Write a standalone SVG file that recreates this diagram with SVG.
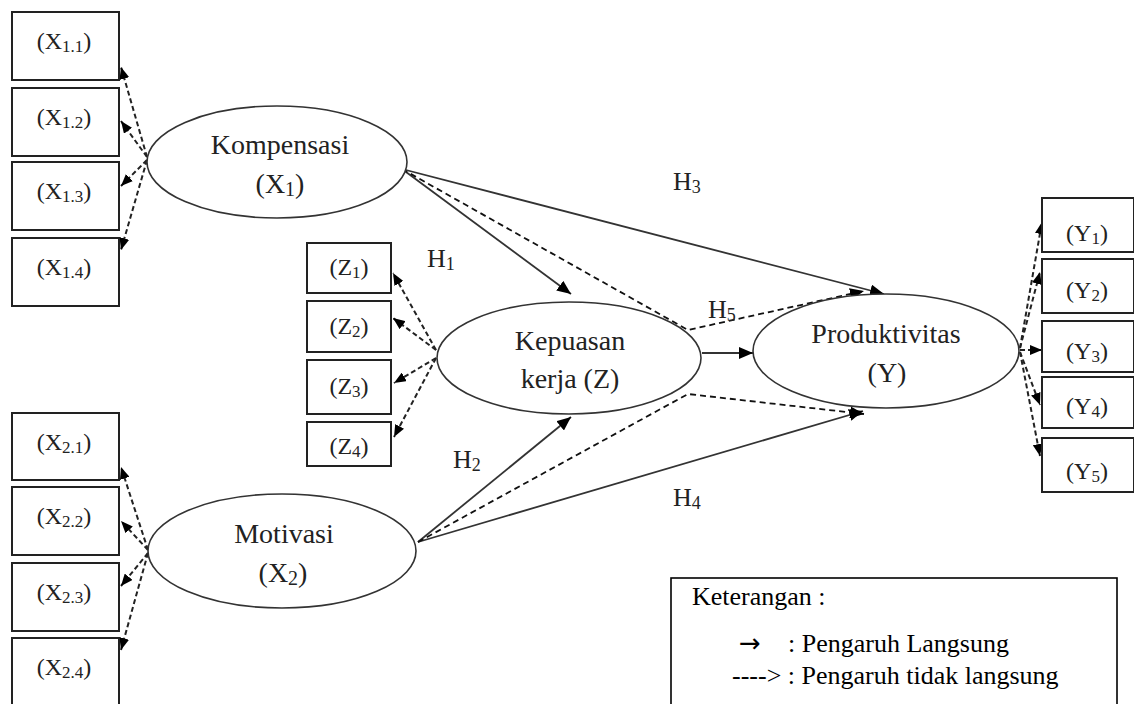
<svg xmlns="http://www.w3.org/2000/svg" width="1134" height="704" viewBox="0 0 1134 704" font-family="Liberation Serif, Times New Roman, serif">
<style>
.box{fill:#fff;stroke:#222;stroke-width:2}
.ell{fill:#fff;stroke:#333;stroke-width:1.6}
.t{font-family:"Liberation Serif","Times New Roman",serif;fill:#222}
.bl{font-size:24px;text-anchor:middle}
.el{font-size:28px;text-anchor:middle}
.h{font-size:26px}
.lg{font-size:26px;fill:#000}
.solid{fill:none;stroke:#333;stroke-width:1.8;marker-end:url(#ah)}
.dash{fill:none;stroke:#111;stroke-width:1.8;stroke-dasharray:6 4;marker-end:url(#ah)}
.ind{fill:none;stroke:#222;stroke-width:2;stroke-dasharray:5 3;marker-end:url(#as)}
</style>
<defs>
<marker id="ah" markerUnits="userSpaceOnUse" markerWidth="14" markerHeight="12" refX="14" refY="6" orient="auto"><path d="M0,0 L14,6 L0,12 z" fill="#000"/></marker>
<marker id="as" markerUnits="userSpaceOnUse" markerWidth="12" markerHeight="10" refX="12" refY="5" orient="auto"><path d="M0,0 L12,5 L0,10 z" fill="#000"/></marker>
</defs>
<rect width="1134" height="704" fill="#fff"/>

<g id="connectors">
<path class="ind" d="M147,157 L121,67"/>
<path class="ind" d="M147,157 L121,121"/>
<path class="ind" d="M147,160 L121,186"/>
<path class="ind" d="M147,160 L121,250"/>
<path class="ind" d="M148,550 L121,467"/>
<path class="ind" d="M148,550 L121,521"/>
<path class="ind" d="M148,553 L121,586"/>
<path class="ind" d="M148,553 L121,650"/>
<path class="ind" d="M436,350 L393,273"/>
<path class="ind" d="M436,350 L393,318"/>
<path class="ind" d="M436,358 L394,383"/>
<path class="ind" d="M436,358 L394,437"/>
<path class="ind" d="M1020,348 L1042,222"/>
<path class="ind" d="M1020,348 L1040,272"/>
<path class="ind" d="M1020,350 L1042,350"/>
<path class="ind" d="M1020,352 L1040,405"/>
<path class="ind" d="M1020,352 L1040,456"/>
<path class="solid" d="M402,169 L571,294"/>
<path class="solid" d="M402,169 L884,294"/>
<path class="dash" d="M402,169 L688,330 L864,291"/>
<path class="solid" d="M702,353 L753,353"/>
<path class="solid" d="M418,542 L571,417"/>
<path class="solid" d="M418,542 L863,411"/>
<path class="dash" d="M418,542 L688,394 L864,414"/>
</g>

<g id="node-x11"><rect class="box" x="12" y="12" width="107" height="68"/><text class="t bl" x="64" y="49">(X<tspan font-size="17" dy="3">1.1</tspan><tspan dy="-3">)</tspan></text></g>
<g id="node-x12"><rect class="box" x="12" y="88" width="107" height="68"/><text class="t bl" x="64" y="125">(X<tspan font-size="17" dy="3">1.2</tspan><tspan dy="-3">)</tspan></text></g>
<g id="node-x13"><rect class="box" x="12" y="162" width="107" height="68"/><text class="t bl" x="64" y="199">(X<tspan font-size="17" dy="3">1.3</tspan><tspan dy="-3">)</tspan></text></g>
<g id="node-x14"><rect class="box" x="12" y="238" width="107" height="68"/><text class="t bl" x="64" y="275">(X<tspan font-size="17" dy="3">1.4</tspan><tspan dy="-3">)</tspan></text></g>

<g id="node-x21"><rect class="box" x="12" y="413" width="107" height="67"/><text class="t bl" x="64" y="450">(X<tspan font-size="17" dy="3">2.1</tspan><tspan dy="-3">)</tspan></text></g>
<g id="node-x22"><rect class="box" x="12" y="487" width="107" height="68"/><text class="t bl" x="64" y="524">(X<tspan font-size="17" dy="3">2.2</tspan><tspan dy="-3">)</tspan></text></g>
<g id="node-x23"><rect class="box" x="12" y="563" width="107" height="68"/><text class="t bl" x="64" y="600">(X<tspan font-size="17" dy="3">2.3</tspan><tspan dy="-3">)</tspan></text></g>
<g id="node-x24"><rect class="box" x="12" y="638" width="107" height="80"/><text class="t bl" x="64" y="675">(X<tspan font-size="17" dy="3">2.4</tspan><tspan dy="-3">)</tspan></text></g>

<g id="node-z1"><rect class="box" x="307" y="243" width="84" height="50"/><text class="t bl" x="349" y="275">(Z<tspan font-size="17" dy="3">1</tspan><tspan dy="-3">)</tspan></text></g>
<g id="node-z2"><rect class="box" x="307" y="301" width="84" height="51"/><text class="t bl" x="349" y="334">(Z<tspan font-size="17" dy="3">2</tspan><tspan dy="-3">)</tspan></text></g>
<g id="node-z3"><rect class="box" x="307" y="360" width="84" height="54"/><text class="t bl" x="349" y="394">(Z<tspan font-size="17" dy="3">3</tspan><tspan dy="-3">)</tspan></text></g>
<g id="node-z4"><rect class="box" x="307" y="422" width="84" height="44"/><text class="t bl" x="349" y="454">(Z<tspan font-size="17" dy="3">4</tspan><tspan dy="-3">)</tspan></text></g>

<g id="node-y1"><rect class="box" x="1042" y="198" width="92" height="54"/><text class="t bl" x="1087" y="241">(Y<tspan font-size="17" dy="3">1</tspan><tspan dy="-3">)</tspan></text></g>
<g id="node-y2"><rect class="box" x="1042" y="259" width="92" height="54"/><text class="t bl" x="1087" y="298">(Y<tspan font-size="17" dy="3">2</tspan><tspan dy="-3">)</tspan></text></g>
<g id="node-y3"><rect class="box" x="1042" y="321" width="92" height="51"/><text class="t bl" x="1087" y="359">(Y<tspan font-size="17" dy="3">3</tspan><tspan dy="-3">)</tspan></text></g>
<g id="node-y4"><rect class="box" x="1042" y="377" width="92" height="51"/><text class="t bl" x="1087" y="414">(Y<tspan font-size="17" dy="3">4</tspan><tspan dy="-3">)</tspan></text></g>
<g id="node-y5"><rect class="box" x="1042" y="438" width="92" height="54"/><text class="t bl" x="1087" y="479">(Y<tspan font-size="17" dy="3">5</tspan><tspan dy="-3">)</tspan></text></g>

<g id="node-kompensasi"><ellipse class="ell" cx="277" cy="162" rx="130" ry="56"/><text class="t el" x="280" y="154">Kompensasi</text><text class="t el" x="280" y="193">(X<tspan font-size="20" dy="3">1</tspan><tspan dy="-3">)</tspan></text></g>
<g id="node-kepuasan"><ellipse class="ell" cx="569" cy="358" rx="132" ry="56"/><text class="t el" x="570" y="350">Kepuasan</text><text class="t el" x="570" y="388">kerja (Z)</text></g>
<g id="node-produktivitas"><ellipse class="ell" cx="886" cy="351" rx="133" ry="57"/><text class="t el" x="886" y="343">Produktivitas</text><text class="t el" x="887" y="382">(Y)</text></g>
<g id="node-motivasi"><ellipse class="ell" cx="282" cy="551" rx="134" ry="57"/><text class="t el" x="284" y="543">Motivasi</text><text class="t el" x="283" y="582">(X<tspan font-size="20" dy="3">2</tspan><tspan dy="-3">)</tspan></text></g>

<g id="labels">
<text class="t h" x="427" y="267">H<tspan font-size="18" dy="3">1</tspan></text>
<text class="t h" x="453" y="468">H<tspan font-size="18" dy="3">2</tspan></text>
<text class="t h" x="673" y="190">H<tspan font-size="18" dy="3">3</tspan></text>
<text class="t h" x="673" y="506">H<tspan font-size="18" dy="3">4</tspan></text>
<text class="t h" x="708" y="318">H<tspan font-size="18" dy="3">5</tspan></text>
</g>

<g id="legend">
<rect x="671" y="578" width="446" height="140" fill="#fff" stroke="#000" stroke-width="1.6"/>
<text class="t lg" x="692" y="605">Keterangan :</text>
<text class="lg" x="739" y="652" font-family="DejaVu Sans, sans-serif" font-size="22">→</text>
<text class="t lg" x="788" y="652">: Pengaruh Langsung</text>
<text class="t lg" x="732" y="684">----&gt; : Pengaruh tidak langsung</text>
</g>
</svg>
